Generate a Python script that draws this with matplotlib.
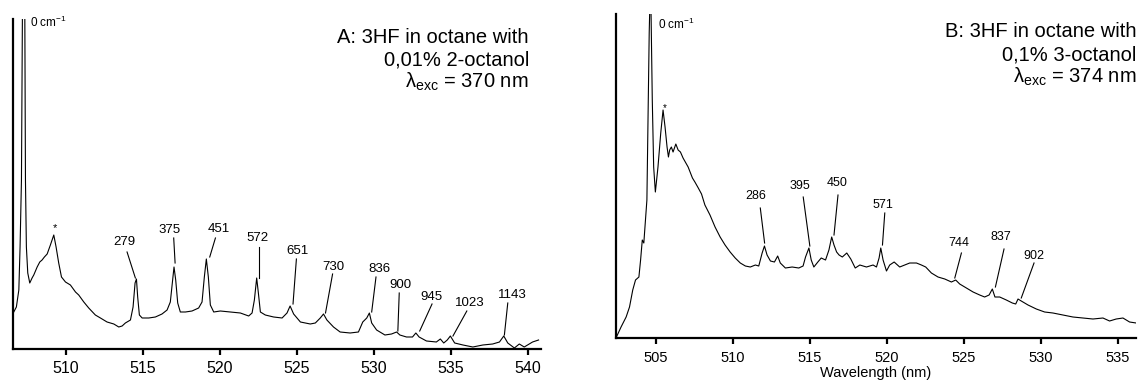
import numpy as np
import matplotlib
matplotlib.use("Agg")
import matplotlib.pyplot as plt

plt.rcParams['font.family'] = ['Liberation Sans', 'DejaVu Sans']
plt.rcParams['mathtext.fontset'] = 'custom'
plt.rcParams['mathtext.rm'] = 'Liberation Sans'
plt.rcParams['mathtext.it'] = 'Liberation Sans:italic'

# ---- spectrum A: 3HF in octane, 0.01% 2-octanol (arb. units)
wl_a = [506.60, 506.77, 506.93, 507.01, 507.10, 507.16, 507.25, 507.32, 507.36, 507.42,
        507.51, 507.64, 507.79, 507.90, 508.12, 508.29, 508.44, 508.59, 508.77, 508.98,
        509.20, 509.35, 509.52, 509.70, 509.96, 510.28, 510.61, 510.82, 511.15, 511.47,
        511.90, 512.23, 512.66, 513.10, 513.42, 513.64, 513.85, 514.18, 514.35, 514.48,
        514.57, 514.65, 514.76, 514.94, 515.37, 515.80, 516.23, 516.56, 516.77, 516.90,
        517.01, 517.12, 517.25, 517.42, 517.75, 518.18, 518.61, 518.83, 518.98, 519.11,
        519.24, 519.37, 519.59, 520.02, 520.67, 521.32, 521.86, 522.08, 522.23, 522.38,
        522.49, 522.62, 522.94, 523.48, 524.03, 524.35, 524.55, 524.78, 525.22, 525.86,
        526.19, 526.51, 526.72, 526.94, 527.37, 527.80, 528.45, 528.99, 529.27, 529.53,
        529.70, 529.85, 530.17, 530.71, 531.14, 531.47, 531.68, 532.11, 532.50, 532.72,
        532.93, 533.41, 534.05, 534.31, 534.53, 534.76, 534.96, 535.24, 535.78, 536.42,
        537.07, 537.71, 538.15, 538.43, 538.69, 539.12, 539.44, 539.76, 540.30, 540.69]
int_a = [37, 42, 59, 102, 169, 329, 420, 329, 169, 102,
         76, 66, 71, 74, 82, 87, 89, 92, 95, 104,
         114, 102, 86, 72, 67, 64, 57, 54, 47, 41,
         34, 31, 27, 25, 22, 23, 26, 29, 42, 66,
         70, 52, 34, 31, 31, 32, 35, 39, 47, 66,
         82, 69, 46, 37, 37, 38, 41, 47, 72, 90,
         72, 44, 37, 38, 37, 36, 33, 36, 49, 71,
         56, 37, 34, 32, 31, 36, 43, 35, 27, 25,
         26, 31, 35, 29, 22, 17, 16, 17, 27, 31,
         36, 26, 19, 14, 15, 17, 14, 12, 12, 16,
         12, 8, 7, 10, 6, 9, 13, 6, 4, 2,
         4, 5, 7, 13, 6, 1, 5, 2, 7, 9]

# ---- spectrum B: 3HF in octane, 0.1% 3-octanol (arb. units)
wl_b = [502.40, 502.73, 503.06, 503.28, 503.49, 503.67, 503.89, 504.00, 504.11, 504.21,
        504.30, 504.41, 504.50, 504.56, 504.59, 504.64, 504.68, 504.76, 504.85, 504.96,
        505.13, 505.31, 505.46, 505.59, 505.72, 505.81, 505.89, 506.00, 506.11, 506.29,
        506.44, 506.59, 506.76, 506.94, 507.09, 507.24, 507.37, 507.53, 507.75, 507.96,
        508.18, 508.51, 508.84, 509.17, 509.49, 509.82, 510.15, 510.48, 510.81, 511.13,
        511.46, 511.68, 511.90, 512.05, 512.22, 512.44, 512.70, 512.91, 513.08, 513.41,
        513.85, 514.28, 514.56, 514.72, 514.94, 515.09, 515.26, 515.52, 515.74, 516.02,
        516.24, 516.42, 516.57, 516.74, 516.90, 517.11, 517.40, 517.66, 517.95, 518.25,
        518.68, 519.11, 519.33, 519.50, 519.61, 519.76, 519.98, 520.19, 520.48, 520.84,
        521.17, 521.49, 521.93, 522.25, 522.53, 522.90, 523.33, 523.77, 524.20, 524.48,
        524.74, 525.17, 525.61, 526.04, 526.36, 526.65, 526.86, 527.03, 527.34, 527.77,
        528.16, 528.38, 528.53, 528.74, 529.18, 529.72, 530.26, 530.80, 531.45, 532.10,
        532.75, 533.40, 534.05, 534.48, 534.91, 535.35, 535.78, 536.21]
int_b = [0, 11, 21, 31, 48, 58, 61, 78, 98, 95,
         115, 138, 238, 305, 325, 360, 325, 238, 171, 146,
         171, 205, 228, 211, 191, 181, 188, 191, 186, 194,
         188, 186, 180, 175, 171, 165, 160, 156, 150, 144,
         133, 123, 111, 101, 93, 86, 80, 75, 72, 71,
         73, 72, 85, 92, 83, 77, 76, 82, 75, 70,
         71, 70, 72, 81, 90, 78, 71, 76, 80, 78,
         88, 101, 93, 86, 83, 81, 85, 79, 70, 73,
         71, 73, 71, 80, 90, 78, 67, 73, 76, 71,
         73, 75, 75, 73, 71, 65, 61, 59, 56, 58,
         54, 50, 46, 43, 41, 43, 49, 41, 41, 38,
         35, 34, 39, 37, 33, 29, 26, 25, 23, 21,
         20, 19, 20, 17, 19, 20, 16, 15]

# peak labels (Raman shift, cm-1): text position, line top, line tip
lab_a = ['279', '375', '451', '572', '651', '730', '836', '900', '945', '1023', '1143']
txt_a = [(513.79, 107), (516.73, 119), (519.91, 120), (522.45, 111), (525.04, 98), (527.37, 82),
         (530.34, 80), (531.72, 64), (533.75, 52), (536.25, 46), (539.01, 54)]
top_a = [(513.96, 97), (516.99, 111), (519.70, 111), (522.55, 102), (524.96, 90), (527.31, 75),
         (530.13, 72), (531.64, 56), (533.77, 45), (536.03, 38), (538.69, 46)]
tip_a = [(514.50, 71), (517.08, 86), (519.33, 92), (522.55, 71), (524.74, 45), (526.85, 36),
         (529.85, 37), (531.55, 18), (532.97, 18), (535.13, 13), (538.47, 14)]

lab_b = ['286', '395', '450', '571', '744', '837', '902']
txt_b = [(511.49, 142), (514.33, 152), (516.79, 155), (519.76, 133), (524.70, 95), (527.40, 101),
         (529.57, 82)]
top_b = [(511.78, 130), (514.57, 141), (516.83, 143), (519.87, 125), (524.85, 85), (527.62, 89),
         (529.57, 75)]
tip_b = [(512.06, 95), (515.00, 92), (516.57, 103), (519.72, 93), (524.42, 60), (527.06, 51),
         (528.74, 40)]

fig = plt.figure(figsize=(11.39, 3.87), dpi=100)
ax1 = fig.add_axes([0.0114, 0.0982, 0.4636, 0.8527])
ax2 = fig.add_axes([0.5408, 0.1266, 0.4566, 0.8372])


def style(ax, xlim, ylim, ticks, fs):
    ax.set_xlim(*xlim)
    ax.set_ylim(*ylim)
    for s in ['top', 'right']:
        ax.spines[s].set_visible(False)
    for s in ['left', 'bottom']:
        ax.spines[s].set_linewidth(1.6)
    ax.set_yticks([])
    ax.set_xticks(ticks)
    ax.tick_params(axis='x', direction='out', length=4.5, width=1.6, pad=4.5,
                   labelsize=fs, colors='black')


def peaks(ax, labels, txt, top, tip, fs):
    for lbl, t, a, b in zip(labels, txt, top, tip):
        ax.text(t[0], t[1], lbl, ha='center', va='center', fontsize=fs)
        ax.plot([a[0], b[0]], [a[1], b[1]], color='black', lw=0.8)


# panel A
ax1.plot(wl_a, int_a, color='black', lw=0.8)
style(ax1, (506.55, 540.85), (0, 330), [510, 515, 520, 525, 530, 535, 540], 11.5)
peaks(ax1, lab_a, txt_a, top_a, tip_a, 9.5)
ax1.text(509.3, 121, '*', ha='center', va='center', fontsize=8)
ax1.text(0.032, 0.975, '0 cm$^{-1}$', transform=ax1.transAxes, ha='left', va='baseline', fontsize=8.5)
ax1.text(0.977, 0.926, 'A: 3HF in octane with', transform=ax1.transAxes, ha='right', va='baseline', fontsize=14.5)
ax1.text(0.977, 0.858, '0,01% 2-octanol', transform=ax1.transAxes, ha='right', va='baseline', fontsize=14.5)
ax1.text(0.977, 0.793, r'λ$_{\rm exc}$ = 370 nm', transform=ax1.transAxes, ha='right', va='baseline', fontsize=14.5)

# panel B
ax2.plot(wl_b, int_b, color='black', lw=0.8)
style(ax2, (502.4, 536.2), (0, 324), [505, 510, 515, 520, 525, 530, 535], 10.5)
peaks(ax2, lab_b, txt_b, top_b, tip_b, 9)
ax2.text(505.57, 230, '*', ha='center', va='center', fontsize=7)
ax2.text(0.080, 0.953, '0 cm$^{-1}$', transform=ax2.transAxes, ha='left', va='baseline', fontsize=8.5)
ax2.text(1.0, 0.928, 'B: 3HF in octane with', transform=ax2.transAxes, ha='right', va='baseline', fontsize=14.5)
ax2.text(1.0, 0.858, '0,1% 3-octanol', transform=ax2.transAxes, ha='right', va='baseline', fontsize=14.5)
ax2.text(1.0, 0.788, r'λ$_{\rm exc}$ = 374 nm', transform=ax2.transAxes, ha='right', va='baseline', fontsize=14.5)
ax2.set_xlabel('Wavelength (nm)', fontsize=10.5, labelpad=1)

fig.savefig('out.png', dpi=100)
